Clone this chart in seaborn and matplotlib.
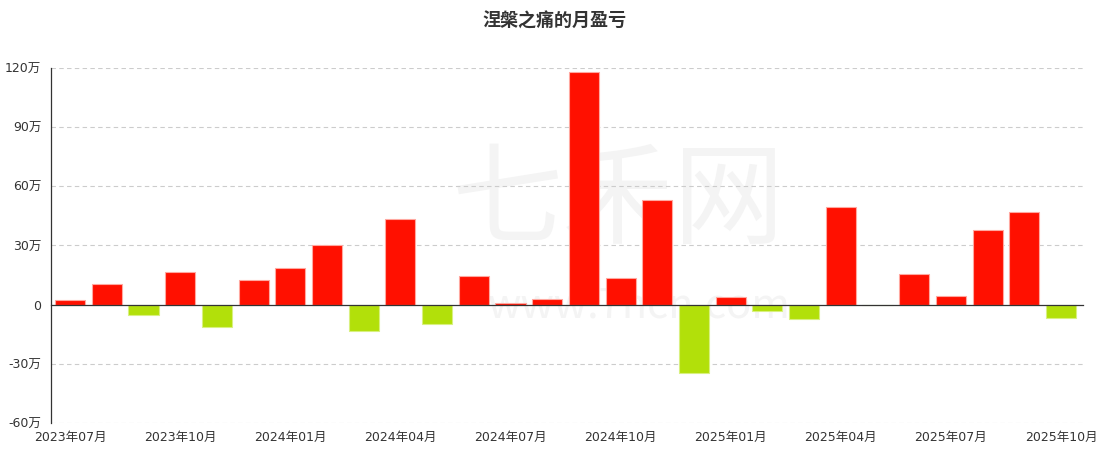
import numpy as np
import pandas as pd
import matplotlib
matplotlib.use("Agg")
import matplotlib.pyplot as plt
import seaborn as sns

# monthly profit / loss, unit: 万
months = ["2023-07", "2023-08", "2023-09", "2023-10", "2023-11", "2023-12",
          "2024-01", "2024-02", "2024-03", "2024-04", "2024-05", "2024-06",
          "2024-07", "2024-08", "2024-09", "2024-10", "2024-11", "2024-12",
          "2025-01", "2025-02", "2025-03", "2025-04", "2025-05", "2025-06",
          "2025-07", "2025-08", "2025-09", "2025-10"]
pnl = [2.5, 10.5, -5.3, 16.6, -11.5, 12.7,
       18.6, 30.0, -13.2, 43.5, -9.6, 14.7,
       1.0, 2.7, 118.0, 13.7, 53.3, -34.8,
       3.7, -3.0, -7.4, 49.6, -0.3, 15.5,
       4.4, 38.0, 47.0, -6.9]
tick_months = ["2023-07", "2023-10", "2024-01", "2024-04", "2024-07",
               "2024-10", "2025-01", "2025-04", "2025-07", "2025-10"]
y_ticks = [-60, -30, 0, 30, 60, 90, 120]

df = pd.DataFrame({"month": months, "pnl": pnl})
df["sign"] = np.where(df["pnl"] >= 0, "gain", "loss")

sns.set_style("white")
plt.rcParams['font.family'] = ['DejaVu Sans', 'Noto Sans CJK SC']
cjk = ['Noto Sans CJK SC', 'DejaVu Sans']

fig = plt.figure(figsize=(11.09, 4.58), dpi=100)
ax = fig.add_axes([51 / 1109, 1 - 423 / 458, (1083 - 51) / 1109, (423 - 68) / 458])

# watermark
ax.text(0.55, 0.62, "七禾网", transform=ax.transAxes, ha="center", va="center",
        fontsize=80, color="#f4f4f4", zorder=0, family=cjk)
ax.text(0.57, 0.33, "www.7hcn.com", transform=ax.transAxes, ha="center", va="center",
        fontsize=30, color="#f4f4f4", zorder=0, family=cjk)

sns.barplot(data=df, x="month", y="pnl", hue="sign",
            palette={"gain": "#ff1000", "loss": "#b2e00a"},
            saturation=1, dodge=False, width=0.82, legend=False, ax=ax,
            linewidth=0.8, zorder=3)
for p in ax.patches:
    if p.get_height() >= 0:
        p.set_edgecolor("#ffa8a0")
    else:
        p.set_edgecolor("#d8f080")

ax.set_xlim(-0.52, 27.6)
ax.set_ylim(-60, 120)
ax.set_yticks(y_ticks)
ax.set_yticklabels([("%d万" % v) if v != 0 else "0" for v in y_ticks])
for v in y_ticks:
    if v != 0:
        ax.axhline(v, color="#cccccc", linestyle=(0, (4, 3)), linewidth=0.8, zorder=1)

# x axis drawn at zero line, labels at the bottom
ax.spines["bottom"].set_position(("data", 0))
ax.spines["bottom"].set_color("#333333")
ax.spines["bottom"].set_linewidth(0.9)
ax.spines["bottom"].set_zorder(4)
ax.spines["left"].set_color("#333333")
ax.spines["left"].set_linewidth(0.9)
ax.spines["top"].set_visible(False)
ax.spines["right"].set_visible(False)

tick_pos = [months.index(m) for m in tick_months]
ax.set_xticks(tick_pos)
ax.set_xticklabels([])
ax.tick_params(axis="x", direction="out", length=5, width=0.9, color="#333333")
ax.tick_params(axis="y", direction="out", length=5, width=0.9, color="#333333",
               labelsize=9, labelcolor="#333333", pad=2)
ax.set_xlabel("")
ax.set_ylabel("")

sec = ax.secondary_xaxis(0.0)
sec.set_xticks(tick_pos)
sec.set_xticklabels([m[:4] + "年" + m[5:] + "月" for m in tick_months])
sec.tick_params(length=0, labelsize=9, labelcolor="#333333", pad=6)
sec.spines["bottom"].set_visible(False)

fig.text(0.5, 1 - 21 / 458, "涅槃之痛的月盈亏", ha="center", va="center",
         fontsize=13, fontweight="bold", color="#333333", family=cjk)

fig.savefig("out.png", dpi=100)
